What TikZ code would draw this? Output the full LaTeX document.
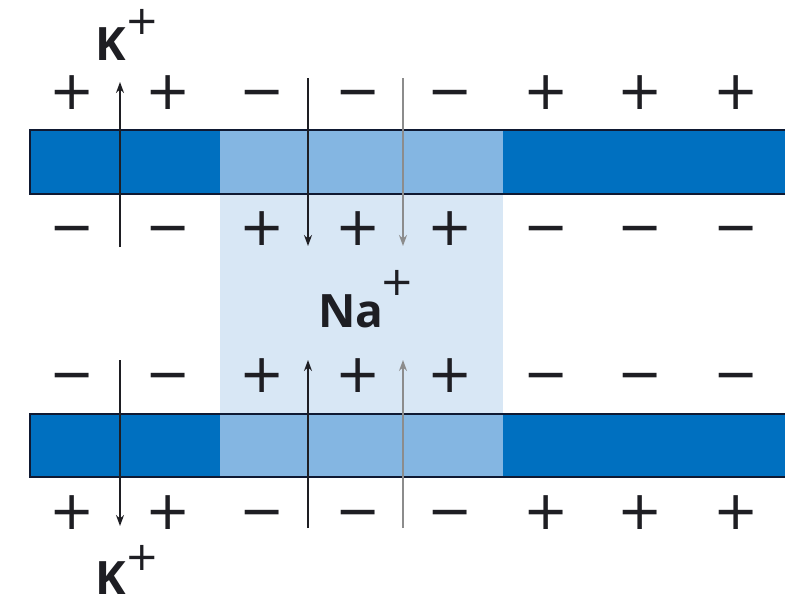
\documentclass[tikz,border=0pt]{standalone}
\usepackage{fontspec}
\setmainfont{Open Sans}
\newfontfamily\symf{DejaVu Sans}
\usetikzlibrary{arrows.meta}
\definecolor{memdark}{RGB}{0,112,192}
\definecolor{memmid}{RGB}{132,182,226}
\definecolor{poreli}{RGB}{216,231,245}
\definecolor{edgec}{RGB}{15,25,50}
\definecolor{ink}{RGB}{30,30,35}
\definecolor{greyarr}{RGB}{140,140,140}
\begin{document}
\begin{tikzpicture}[x=1pt,y=-1pt,
  chg/.style={font=\symf\fontsize{54}{54}\selectfont, inner sep=0pt, text=ink},
  ion/.style={font=\fontsize{46}{46}\selectfont\bfseries, inner sep=0pt, text=ink, anchor=base west},
  ionplus/.style={font=\symf\fontsize{40}{40}\selectfont, inner sep=0pt, text=ink},
  arr/.style={draw=ink, line width=1.4pt, -{Stealth[length=11pt,width=8pt]}},
  garr/.style={draw=greyarr, line width=1.4pt, -{Stealth[length=11pt,width=8pt]}}]
\useasboundingbox (0,0) rectangle (785,606);
\fill[white] (0,0) rectangle (785,606);
% pore region
\fill[poreli] (220,193) rectangle (503,415);
% membranes
\foreach \t/\b in {130/194, 414/477} {
  \fill[memdark] (30,\t) rectangle (785,\b);
  \fill[memmid] (220,\t) rectangle (503,\b);
  \draw[edgec, line width=2pt] (785,\t) -- (30,\t) -- (30,\b) -- (785,\b);
}
% charges
\foreach \r/\yy/\s in {1/93/+, 2/229/{−}, 3/376/{−}, 4/513/+} {
  \foreach \i/\xx in {1/72, 2/168, 6/546, 7/640, 8/736} {
    \node[chg] (c\r\i) at (\xx,\yy) {\vphantom{+}\s};
  }
}
\foreach \r/\yy/\s in {1/93/{−}, 2/229/+, 3/376/+, 4/513/{−}} {
  \foreach \i/\xx in {3/262, 4/358, 5/450} {
    \node[chg] (c\r\i) at (\xx,\yy) {\vphantom{+}\s};
  }
}
% arrow end points
\coordinate (kta) at (120,247);
\coordinate (ktb) at (120,82);
\coordinate (kba) at (120,360);
\coordinate (kbb) at (120,526);
\coordinate (nta) at (308,78);
\coordinate (ntb) at (308,246);
\coordinate (gta) at (403,78);
\coordinate (gtb) at (403,246);
\coordinate (nba) at (308,528);
\coordinate (nbb) at (308,360);
\coordinate (gba) at (403,528);
\coordinate (gbb) at (403,360);
\draw[arr] (kta) -- (ktb);
\draw[arr] (kba) -- (kbb);
\draw[arr] (nta) -- (ntb);
\draw[garr] (gta) -- (gtb);
\draw[arr] (nba) -- (nbb);
\draw[garr] (gba) -- (gbb);
% labels
\node[ion] (ktop) at (95,60) {K};
\node[ionplus] (ktopp) at (142,22) {+};
\node[ion] (kbot) at (95,594) {K};
\node[ionplus] (kbotp) at (142,558) {+};
\node[ion] (na) at (318,327) {Na};
\node[ionplus] (nap) at (397,283) {+};
\end{tikzpicture}
\end{document}
